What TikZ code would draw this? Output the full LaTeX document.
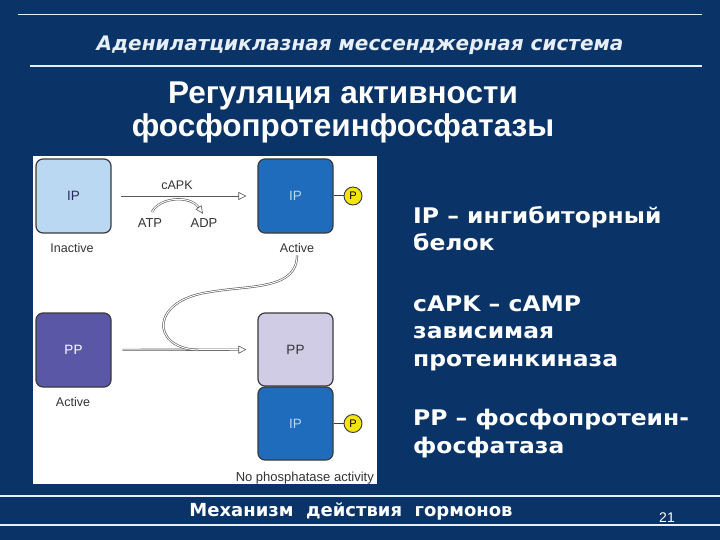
\documentclass[tikz,border=0pt]{standalone}
\usepackage{fontspec}
\setmainfont{Liberation Sans}
\newfontfamily\widefont{DejaVu Sans}
\newfontfamily\legendfont{DejaVu Sans}[FakeStretch=1.09]
\usetikzlibrary{calc, positioning}
\usetikzlibrary{arrows.meta}

\definecolor{slidebg}{HTML}{0A3468}
\definecolor{rulecol}{HTML}{E6EEF8}
\definecolor{ipdark}{HTML}{1F6BBC}
\definecolor{iplight}{HTML}{BAD8F1}
\definecolor{ppdark}{HTML}{5A58A6}
\definecolor{pplight}{HTML}{D0CCE6}
\definecolor{edgecol}{HTML}{3A3A3A}
\definecolor{inkgray}{HTML}{333333}
\definecolor{phosfill}{HTML}{F4E40C}

\tikzset{
  protein/.style={draw=edgecol, line width=1.2pt, rounded corners=7pt,
    minimum width=75pt, minimum height=74pt, inner sep=0pt,
    font=\fontsize{13.5}{13.5}\selectfont},
  tag/.style={text=inkgray, inner sep=0pt, font=\fontsize{12.5}{13}\selectfont},
  phos/.style={circle, draw=edgecol, fill=phosfill, line width=0.9pt,
    minimum size=18pt, inner sep=0pt, font=\fontsize{11}{11}\selectfont},
  flow/.style={draw=edgecol!85, line width=0.6pt, double=white, double distance=1pt,
    -{Triangle[open, length=8pt, width=8pt]}},
  legend/.style={anchor=base west, align=left, text=white, inner sep=0pt,
    font=\fontsize{21.5}{27.5}\selectfont\legendfont\bfseries},
}

\begin{document}
\begin{tikzpicture}[x=1pt, y=-1pt]
  \fill[slidebg] (0,0) rectangle (720,540);
  \useasboundingbox (0,0) rectangle (720,540);

  % rules
  \draw[rulecol, line width=1.3pt] (18,14.5) -- (702,14.5);
  \draw[rulecol, line width=1.3pt] (30,66) -- (702,66);
  \draw[rulecol, line width=1.3pt] (0,496) -- (720,496);
  \draw[rulecol, line width=1.3pt] (0,525) -- (720,525);

  \node[anchor=base, text=rulecol, inner sep=0pt,
    font=\fontsize{20}{20}\selectfont\widefont\bfseries\itshape] (head) at (360,51)
    {Аденилатциклазная мессенджерная система};
  % base of a multi-line node = last line
  \node[anchor=base, align=center, text=white, inner sep=0pt,
    font=\fontsize{31.5}{33}\selectfont\bfseries] (title) at (343,137)
    {Регуляция активности\\фосфопротеинфосфатазы};

  % figure panel
  \fill[white] (33,156) rectangle (377,484);

  \node[protein, fill=iplight, text=inkgray!80!blue] (ipA) at (73.5,196) {IP};
  \node[protein, fill=ipdark, text=iplight] (ipB) at (295.5,196) {IP};
  \node[protein, fill=ppdark, text=white] (ppA) at (73.5,350) {PP};
  \node[protein, fill=pplight, text=inkgray, minimum height=73pt] (ppB) at (295.5,349.5) {PP};
  \node[protein, fill=ipdark, text=iplight, minimum height=73pt] (ipC) at (295.5,423.5) {IP};

  \node[phos] (p1) at (353,196) {P};
  \node[phos] (p2) at (353,423.5) {P};
  \draw[edgecol, line width=1pt] (ipB.east) -- (p1.west);
  \draw[edgecol, line width=1pt] (ipC.east) -- (p2.west);

  \node[tag, anchor=base] (inact) at (72,252) {Inactive};
  \node[tag, anchor=base] (actB) at (297,252) {Active};
  \node[tag, anchor=base] (actA) at (73,406) {Active};
  \node[tag, anchor=base east, font=\fontsize{13}{13}\selectfont] (nopp) at (374,481) {No phosphatase activity};
  \node[tag, anchor=base] (capk) at (177,190) {cAPK};
  \node[tag, anchor=base, font=\fontsize{13}{13}\selectfont] (atp) at (150,227) {ATP};
  \node[tag, anchor=base, font=\fontsize{13}{13}\selectfont] (adp) at (204,227) {ADP};

  \draw[flow, shorten <=9pt, shorten >=11pt] (ipA) -- (ipB);
  \draw[flow, shorten <=11pt, shorten >=11pt] (ppA) -- (ppB);
  \draw[flow, -{Triangle[open, length=8pt, width=7pt]}]
    ($(atp.north)+(2,-6)$) .. controls (160,197) and (190,195) .. ($(adp.north)+(-1,-4)$);

  \coordinate (join) at (198,350);
  \draw[flow, -, shorten <=3pt] (actB.south) .. controls (297,290) and (250,285) .. (210,292)
    .. controls (150,300) and (150,348) .. (join);

  % legend
  \node[legend] (ipdef) at (413,251) {IP – ингибиторный\\белок};
  \node[legend] (capkdef) at (413,366) {cAPK – cAMP\\зависимая\\протеинкиназа};
  \node[legend] (ppdef) at (413,453) {PP – фосфопротеин-\\фосфатаза};

  \node[anchor=base, text=white, inner sep=0pt,
    font=\fontsize{18}{18}\selectfont\widefont\bfseries] (foot) at (351,516)
    {Механизм\ \ действия\ \ гормонов};
  \node[anchor=base, text=white, inner sep=0pt,
    font=\fontsize{14}{14}\selectfont] (pageno) at (667,522) {21};
\end{tikzpicture}
\end{document}
